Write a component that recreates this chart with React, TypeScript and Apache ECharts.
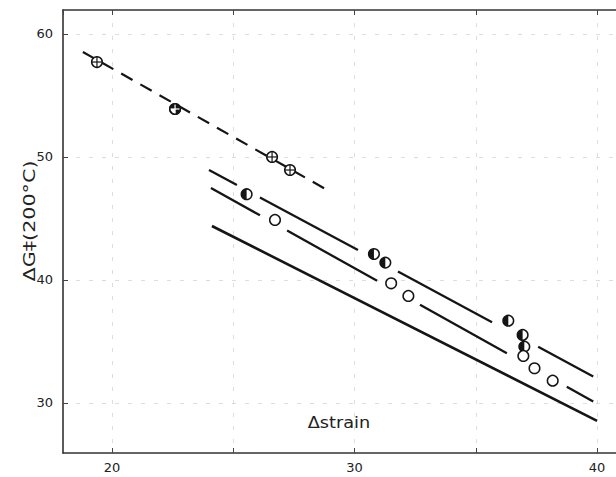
import React, { useEffect, useRef } from "react";
import * as echarts from "echarts";

// Axis ticks shown as labels
const xLabelValues = [20, 30, 40];
const yLabelValues = [30, 40, 50, 60];

// Crossed circles (⊕)
const crossX = [19.38, 26.6, 27.34];
const crossY = [57.72, 50.0, 48.94];
// Quartered filled circle
const quarterX = [22.6];
const quarterY = [53.9];
// Half-filled circles (◐)
const halfX = [25.55, 30.8, 31.27, 36.34, 36.93, 37.0];
const halfY = [46.97, 42.11, 41.41, 36.69, 35.53, 34.58];
// Open circles (○)
const openX = [26.72, 31.51, 32.22, 36.96, 37.42, 38.17];
const openY = [44.88, 39.73, 38.7, 33.82, 32.82, 31.81];

// Line segments: consecutive pairs of [x, y] endpoints
const dashedLine = [[18.8, 58.54], [28.87, 47.32]];
const lineA = [
  [24.0, 48.94], [25.15, 47.72],
  [26.1, 46.71], [30.14, 42.43],
  [31.79, 40.68], [35.67, 36.57],
  [37.57, 34.56], [39.84, 32.15],
];
const lineB = [
  [24.08, 47.48], [26.1, 45.26],
  [27.22, 44.02], [30.93, 39.93],
  [32.7, 37.98], [36.28, 34.04],
  [38.75, 31.32], [39.84, 30.12],
];
const lineC = [[24.12, 44.39], [40.0, 28.54]];

const toSegments = (pts: number[][]) => {
  const out: { coords: number[][] }[] = [];
  for (let i = 0; i + 1 < pts.length; i += 2) out.push({ coords: [pts[i], pts[i + 1]] });
  return out;
};

const INK = "#151515";
const R = 5.3;

const makeMarker = (kind: string) => (params: any, api: any) => {
  const p = api.coord([api.value(0), api.value(1)]);
  const cx = p[0], cy = p[1];
  const children: any[] = [
    { type: "circle", shape: { cx, cy, r: R }, style: { fill: "#fff", stroke: INK, lineWidth: 1.5 } },
  ];
  if (kind === "half") {
    children.push({
      type: "sector",
      shape: { cx, cy, r0: 0, r: R, startAngle: Math.PI / 2, endAngle: Math.PI * 1.5, clockwise: true },
      style: { fill: INK },
    });
  }
  if (kind === "quarter") {
    children.push({
      type: "sector",
      shape: { cx, cy, r0: 0, r: R, startAngle: Math.PI, endAngle: Math.PI * 2, clockwise: true },
      style: { fill: INK },
    });
    children.push({
      type: "sector",
      shape: { cx, cy, r0: 0, r: R, startAngle: 0, endAngle: Math.PI / 2, clockwise: true },
      style: { fill: INK },
    });
  }
  if (kind === "cross" || kind === "quarter") {
    children.push({ type: "line", shape: { x1: cx - R, y1: cy, x2: cx + R, y2: cy }, style: { stroke: kind === "quarter" ? "#fff" : INK, lineWidth: 1.2 } });
    children.push({ type: "line", shape: { x1: cx, y1: cy - R, x2: cx, y2: cy + R }, style: { stroke: kind === "quarter" ? "#fff" : INK, lineWidth: 1.2 } });
    if (kind === "quarter") {
      children.push({ type: "circle", shape: { cx, cy, r: R }, style: { fill: "none", stroke: INK, lineWidth: 1.5 } });
    }
  }
  return { type: "group", children };
};

const zip = (xs: number[], ys: number[]) => xs.map((x, i) => [x, ys[i]]);

const FONT = "DejaVu Sans";

export default function App() {
  const ref = useRef<HTMLDivElement>(null);
  useEffect(() => {
    if (!ref.current) return;
    const chart = echarts.init(ref.current, undefined, { renderer: "svg" });
    const gridLine = {
      show: true,
      showMinLine: false,
      showMaxLine: false,
      lineStyle: { color: "#b0b0b0", type: [4, 9] as any, width: 0.8, opacity: 0.55 },
    };
    const axisLine = { show: true, onZero: false, lineStyle: { color: "#333", width: 1.6 } };
    chart.setOption({
      animation: false,
      backgroundColor: "#fff",
      grid: { left: 63, top: 10, right: 0, bottom: 24, outerBoundsMode: "none" } as any,
      xAxis: [
        {
          type: "value",
          min: 17.98,
          max: 40.78,
          position: "bottom",
          axisLine,
          axisTick: { show: true, inside: true, length: 5, lineStyle: { color: "#444", width: 1 } },
          axisLabel: {
            showMinLabel: false,
            showMaxLabel: false,
            margin: 8,
            color: "#222",
            fontSize: 13,
            fontFamily: FONT,
            formatter: (v: number) => (xLabelValues.includes(v) ? String(v) : ""),
          },
          splitLine: gridLine,
        },
        {
          type: "value",
          min: 17.98,
          max: 40.78,
          position: "top",
          axisLine,
          axisTick: { show: true, inside: true, length: 5, lineStyle: { color: "#444", width: 1 } },
          axisLabel: { show: false },
          splitLine: { show: false },
        },
      ],
      yAxis: {
        type: "value",
        min: 25.93,
        max: 61.95,
        axisLine,
        axisTick: { show: true, inside: true, length: 5, lineStyle: { color: "#444", width: 1 } },
        axisLabel: {
          showMinLabel: false,
          showMaxLabel: false,
          margin: 10,
          color: "#222",
          fontSize: 13,
          fontFamily: FONT,
          formatter: (v: number) => (yLabelValues.includes(v) ? String(v) : ""),
        },
        splitLine: gridLine,
      },
      graphic: [
        {
          type: "text",
          x: 30,
          y: 221,
          rotation: Math.PI / 2,
          scaleX: 1.38,
          style: { text: "ΔG‡(200°C)", fill: "#222", font: `15px '${FONT}'`, align: "center", verticalAlign: "middle" },
        },
        {
          type: "text",
          x: 339,
          y: 423,
          scaleX: 1.18,
          style: { text: "Δstrain", fill: "#222", font: `15px '${FONT}'`, align: "center", verticalAlign: "middle" },
        },
      ],
      series: [
        {
          type: "lines",
          coordinateSystem: "cartesian2d",
          data: toSegments(dashedLine),
          lineStyle: { color: INK, width: 2.2, type: [13, 9] as any, opacity: 1 },
          z: 2,
        },
        {
          type: "lines",
          coordinateSystem: "cartesian2d",
          data: toSegments(lineA),
          lineStyle: { color: INK, width: 2.3, opacity: 1 },
          z: 2,
        },
        {
          type: "lines",
          coordinateSystem: "cartesian2d",
          data: toSegments(lineB),
          lineStyle: { color: INK, width: 2.3, opacity: 1 },
          z: 2,
        },
        {
          type: "lines",
          coordinateSystem: "cartesian2d",
          data: toSegments(lineC),
          lineStyle: { color: INK, width: 2.6, opacity: 1 },
          z: 2,
        },
        { type: "custom", renderItem: makeMarker("cross"), data: zip(crossX, crossY), encode: { x: 0, y: 1 }, z: 5 },
        { type: "custom", renderItem: makeMarker("quarter"), data: zip(quarterX, quarterY), encode: { x: 0, y: 1 }, z: 5 },
        { type: "custom", renderItem: makeMarker("half"), data: zip(halfX, halfY), encode: { x: 0, y: 1 }, z: 5 },
        { type: "custom", renderItem: makeMarker("open"), data: zip(openX, openY), encode: { x: 0, y: 1 }, z: 5 },
      ],
    });
    return () => chart.dispose();
  }, []);
  return (
    <div
      ref={ref}
      style={{ position: "fixed", left: 0, top: 0, width: 616, height: 477, background: "#fff" }}
    />
  );
}
